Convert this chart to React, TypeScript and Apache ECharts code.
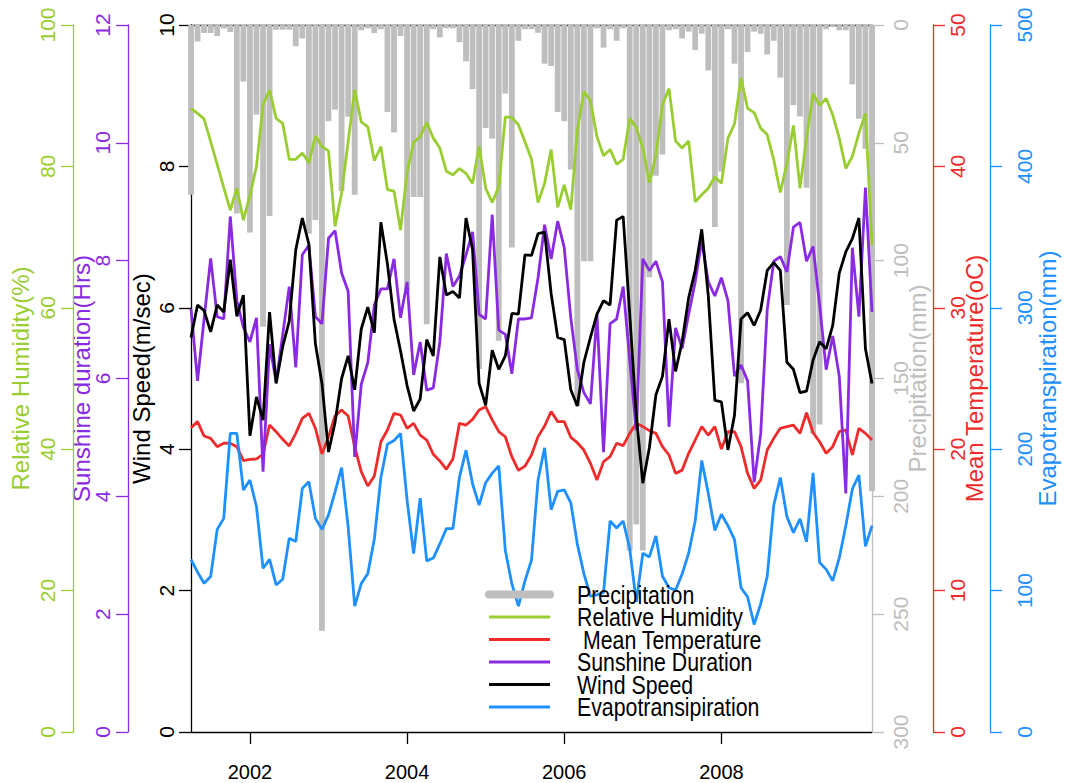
import React, { useEffect, useRef } from "react";
import * as echarts from "echarts";

// ---- Data (monthly, Apr 2001 - Dec 2009) ----
const START_YEAR = 2001;
const START_MONTH = 4;
const N_MONTHS = 105;
const months: string[] = [];
for (let k = 0; k < N_MONTHS; k++) {
  const m = START_MONTH - 1 + k;
  months.push(`${START_YEAR + Math.floor(m / 12)}-${String((m % 12) + 1).padStart(2, "0")}`);
}
const yearTickLabels = ["2002", "2004", "2006", "2008"];

const precipitation = [
  72, 7, 3.4, 3.4, 4.7, 1.5, 3, 80, 24, 88, 38, 128, 81, 2, 2, 2, 9, 5.7, 88.6, 82.7,
  257, 40.8, 35.9, 70.4, 38.9, 72, 2.2, 1.4, 3.4, 1.8, 36.9, 45.6, 4.7, 113, 73, 73, 127, 1.8, 5.3, 1.4,
  1.4, 7.3, 15.4, 27.2, 146, 43.7, 48.2, 134, 29.1, 94.4, 6.7, 1.8, 1.8, 3.3, 16.4, 17.4, 36.9, 40.8, 61.3, 161.7,
  100.3, 100.3, 1.4, 9.6, 1.8, 6.7, 1.4, 223, 212, 223, 107, 64, 55, 2.2, 1.8, 5.7, 2.8, 10.6, 3.7, 19.3,
  85.7, 62.2, 1.8, 16.4, 152, 11.5, 2.8, 3.7, 12.5, 6.7, 22.3, 118.8, 34, 38.8, 69.1, 173.4, 169.5, 1.8, 0.8, 2.2,
  2.2, 25.2, 39.8, 52.5, 197.8,
];
const relativeHumidity = [
  88.2, 87.5, 86.7, 83.5, 80.3, 77.0, 73.8, 76.9, 72.4, 75.9, 80.0, 88.7, 90.8, 86.8, 86.1, 81.0, 81.0, 81.9, 80.5, 84.3,
  82.8, 82.2, 71.5, 76.2, 83.5, 90.8, 86.3, 85.6, 80.8, 82.8, 76.7, 76.5, 71.0, 79.2, 83.4, 84.2, 86.2, 84.0, 82.6, 79.3,
  78.8, 79.7, 79.0, 77.6, 82.9, 76.9, 74.9, 77.1, 87.0, 86.9, 85.9, 83.5, 81.0, 74.9, 77.6, 82.4, 74.2, 77.4, 73.9, 85.1,
  90.6, 89.3, 84.2, 81.5, 82.4, 80.3, 81.0, 86.8, 85.5, 82.6, 77.7, 81.6, 88.7, 91.0, 83.6, 82.6, 83.6, 75.0, 76.0, 76.9,
  78.5, 77.6, 84.0, 86.0, 92.5, 88.2, 87.6, 85.4, 84.5, 80.9, 76.3, 80.4, 85.8, 76.9, 84.0, 90.3, 88.6, 89.6, 87.3, 84.0,
  79.7, 81.4, 84.7, 87.5, 68.9,
];
const meanTemperature = [
  21.52, 21.95, 20.93, 20.77, 20.18, 20.42, 20.42, 20.18, 19.19, 19.28, 19.31, 19.64, 21.71, 21.24, 20.7, 20.23, 21.12, 22.18, 22.54, 21.48,
  19.66, 20.88, 22.35, 22.77, 22.35, 20.18, 18.41, 17.4, 18.1, 20.53, 21.36, 22.54, 22.42, 21.48, 21.83, 21.0, 20.65, 19.64, 19.17, 18.58,
  19.31, 21.83, 21.71, 22.11, 22.77, 23.01, 22.07, 21.24, 20.88, 19.47, 18.5, 18.8, 19.59, 20.89, 21.64, 22.66, 21.95, 21.95, 20.84, 20.46,
  19.94, 19.0, 17.82, 19.12, 19.47, 20.42, 20.25, 21.12, 21.83, 21.6, 21.31, 21.12, 20.18, 19.59, 18.29, 18.52, 19.71, 20.65, 21.6, 21.0,
  21.6, 20.01, 21.24, 21.24, 20.18, 18.29, 17.23, 17.82, 19.94, 20.77, 21.48, 21.6, 21.71, 21.12, 22.58, 21.17, 20.53, 19.71, 20.18, 21.24,
  21.36, 19.59, 21.48, 21.12, 20.65,
];
const sunshineDuration = [
  7.18, 5.96, 7.01, 8.04, 7.05, 7.01, 8.75, 7.32, 6.87, 6.62, 7.03, 4.42, 6.58, 5.94, 6.74, 7.56, 6.19, 8.1, 8.26, 7.05,
  6.93, 8.38, 8.51, 7.79, 7.48, 4.67, 5.9, 6.27, 7.25, 7.52, 7.52, 8.03, 7.03, 7.64, 6.06, 6.62, 5.8, 5.84, 6.62, 8.12,
  7.56, 7.74, 8.1, 8.49, 7.09, 7.01, 8.78, 6.82, 6.75, 6.08, 7.01, 7.01, 7.03, 7.71, 8.61, 8.03, 8.67, 8.22, 7.03, 6.15,
  5.76, 5.57, 7.09, 4.75, 6.93, 7.01, 7.56, 6.31, 5.12, 8.03, 7.83, 7.99, 7.64, 5.18, 6.86, 6.51, 7.09, 7.64, 8.34, 7.64,
  7.4, 7.71, 7.32, 6.04, 6.23, 5.96, 4.24, 5.06, 7.17, 7.99, 8.07, 7.81, 8.57, 8.65, 7.99, 8.24, 7.25, 6.15, 6.72, 6.04,
  4.05, 8.22, 7.05, 9.24, 7.13,
];
const windSpeed = [
  5.58, 6.04, 5.96, 5.66, 6.04, 5.94, 6.68, 5.88, 6.18, 4.19, 4.74, 4.41, 5.94, 4.93, 5.45, 5.81, 6.82, 7.27, 6.9, 5.49,
  4.93, 3.96, 4.38, 5.0, 5.32, 4.84, 5.7, 6.01, 5.65, 7.21, 6.62, 5.84, 5.39, 4.9, 4.54, 4.71, 5.55, 5.32, 6.72, 6.18,
  6.23, 6.14, 7.27, 6.82, 4.93, 4.62, 5.4, 5.13, 5.32, 5.92, 5.91, 6.75, 6.74, 7.05, 7.07, 6.2, 5.58, 5.55, 4.84, 4.61,
  5.23, 5.58, 5.91, 6.1, 6.04, 7.24, 7.29, 5.91, 4.48, 3.52, 4.02, 4.77, 5.03, 5.84, 5.1, 5.52, 6.14, 6.53, 7.11, 6.17,
  4.69, 4.67, 3.99, 4.48, 5.84, 5.93, 5.75, 5.97, 6.53, 6.64, 6.53, 5.23, 5.13, 4.8, 4.82, 5.26, 5.52, 5.42, 5.75, 6.49,
  6.79, 6.98, 7.27, 5.42, 4.93,
];
const evapotranspiration = [
  122, 113, 105.2, 109.9, 143.3, 151.1, 211.2, 211.2, 171.1, 178.2, 159.3, 115.8, 122.1, 104.0, 108.0, 137.0, 134.7, 172.3, 177.0, 151.1,
  143.3, 153.5, 169.9, 186.9, 145, 89.0, 105, 112, 136.5, 180, 203.5, 206.2, 211.1, 164, 126.2, 165.4, 121, 123, 133, 143.8,
  143.8, 180.3, 199.3, 175.5, 160.5, 176.3, 183.1, 188.2, 128.4, 104.8, 89.0, 106.9, 121.5, 178.4, 201.0, 157.2, 170.2, 171.2, 162.1, 132.9,
  112, 96, 97, 98.7, 149.2, 144.3, 149.2, 129.6, 92, 126.4, 123.8, 138.7, 110.1, 102.0, 100.3, 111.7, 126.4, 149.2, 192, 168.6,
  142.6, 154.0, 145.9, 136.1, 102.0, 95.5, 76.0, 90.6, 110.1, 160.5, 180.0, 152.3, 141.0, 150.7, 134.5, 183.2, 119.9, 115.0, 106.9, 123.1,
  145.9, 171.9, 181.6, 131.3, 145.9,
];

const legendItems = [
  { name: "Precipitation", color: "#BEBEBE", width: 8 },
  { name: "Relative Humidity", color: "#9ACD32", width: 3 },
  { name: " Mean Temperature", color: "#EE2C2C", width: 3 },
  { name: "Sunshine Duration", color: "#8A2BE2", width: 3 },
  { name: "Wind Speed", color: "#000000", width: 3 },
  { name: "Evapotransipiration", color: "#1E90FF", width: 3 },
];

const C_RH = "#9ACD32";
const C_SUN = "#8A2BE2";
const C_WIND = "#000000";
const C_PREC = "#BEBEBE";
const C_TEMP = "#EE2C2C";
const C_EVAP = "#1E90FF";

const FONT = "'Liberation Sans', Arial, sans-serif";

function mkY(o: any) {
  return {
    type: "value",
    position: o.position,
    offset: o.offset,
    min: o.min,
    max: o.max,
    interval: o.interval,
    inverse: !!o.inverse,
    name: o.name,
    nameLocation: "middle",
    nameRotate: 90,
    nameGap: o.nameGap,
    nameMoveOverlap: false,
    nameTextStyle: { color: o.color, fontSize: 24, fontFamily: FONT },
    axisLine: { show: true, onZero: false, lineStyle: { color: o.color, width: 1.3 } },
    axisTick: { show: true, length: 12, lineStyle: { color: o.color, width: 1.3 } },
    axisLabel: { show: true, rotate: 90, color: o.color, fontSize: 21, fontFamily: FONT, margin: o.labelMargin },
    splitLine: { show: false },
  };
}

export default function App() {
  const ref = useRef<HTMLDivElement>(null);
  useEffect(() => {
    document.body.style.margin = "0";
    document.body.style.overflow = "hidden";
    if (!ref.current) return;
    const chart = echarts.init(ref.current, undefined, { renderer: "svg", width: 1065, height: 783 });
    const isYearTick = (_i: number, v: string) =>
      v.endsWith("-01") && yearTickLabels.includes(v.slice(0, 4));

    const rowY = (k: number) => 594.5 + 22.5 * k;
    const graphics: any[] = [];
    legendItems.forEach((it, k) => {
      graphics.push({
        type: "line",
        shape: { x1: 489, y1: rowY(k), x2: 550, y2: rowY(k) },
        style: { stroke: it.color, lineWidth: it.width, lineCap: k === 0 ? "round" : "butt" },
        z: 100,
      });
      graphics.push({
        type: "text",
        x: 577,
        y: rowY(k),
        scaleX: 0.82,
        style: {
          text: it.name,
          fill: "#000",
          fontSize: 26,
          fontFamily: FONT,
          align: "left",
          verticalAlign: "middle",
        },
        z: 100,
      });
    });

    const option: any = {
      animation: false,
      backgroundColor: "#ffffff",
      grid: { left: 191, right: 193, top: 25, bottom: 51, containLabel: false, outerBoundsMode: "none" },
      xAxis: [
        {
          type: "category",
          data: months,
          boundaryGap: false,
          position: "bottom",
          axisLine: { show: true, onZero: false, lineStyle: { color: "#000", width: 1.3 } },
          axisTick: { show: true, length: 12, interval: isYearTick, lineStyle: { color: "#000", width: 1.3 } },
          axisLabel: {
            show: true,
            interval: isYearTick,
            formatter: (v: string) => v.slice(0, 4),
            color: "#000",
            fontSize: 20,
            fontFamily: FONT,
            margin: 30,
          },
          splitLine: { show: false },
        },
        {
          type: "category",
          data: months,
          boundaryGap: false,
          position: "top",
          axisLine: { show: true, onZero: false, lineStyle: { color: "#000", width: 1.3 } },
          axisTick: { show: false },
          axisLabel: { show: false },
          splitLine: { show: false },
        },
      ],
      yAxis: [
        mkY({ position: "left", offset: 0, min: 0, max: 10, interval: 2, name: "Wind Speed(m/sec)", color: C_WIND, nameGap: 38, labelMargin: 14 }),
        mkY({ position: "left", offset: 63, min: 0, max: 12, interval: 2, name: "Sunshine duration(Hrs)", color: C_SUN, nameGap: 35, labelMargin: 15 }),
        mkY({ position: "left", offset: 118, min: 0, max: 100, interval: 20, name: "Relative Humidity(%)", color: C_RH, nameGap: 41, labelMargin: 15 }),
        mkY({ position: "right", offset: 0, min: 0, max: 300, interval: 50, inverse: true, name: "Precipitation(mm)", color: C_PREC, nameGap: 33, labelMargin: 18 }),
        mkY({ position: "right", offset: 61, min: 0, max: 50, interval: 10, name: "Mean Temperature(oC)", color: C_TEMP, nameGap: 29, labelMargin: 14 }),
        mkY({ position: "right", offset: 118, min: 0, max: 500, interval: 100, name: "Evapotranspiration(mm)", color: C_EVAP, nameGap: 45, labelMargin: 24 }),
      ],
      series: [
        {
          name: "Precipitation",
          type: "bar",
          yAxisIndex: 3,
          data: precipitation,
          barWidth: 5.8,
          itemStyle: { color: C_PREC },
          clip: true,
          z: 1,
        },
        { name: "Relative Humidity", type: "line", yAxisIndex: 2, data: relativeHumidity, symbol: "none", lineStyle: { color: C_RH, width: 2.8 }, z: 3 },
        { name: "Mean Temperature", type: "line", yAxisIndex: 4, data: meanTemperature, symbol: "none", lineStyle: { color: C_TEMP, width: 2.8 }, z: 3 },
        { name: "Sunshine Duration", type: "line", yAxisIndex: 1, data: sunshineDuration, symbol: "none", lineStyle: { color: C_SUN, width: 2.8 }, z: 3 },
        { name: "Wind Speed", type: "line", yAxisIndex: 0, data: windSpeed, symbol: "none", lineStyle: { color: C_WIND, width: 2.8 }, z: 3 },
        { name: "Evapotranspiration", type: "line", yAxisIndex: 5, data: evapotranspiration, symbol: "none", lineStyle: { color: C_EVAP, width: 2.8 }, z: 3 },
      ],
      graphic: graphics,
    };
    chart.setOption(option);
    return () => chart.dispose();
  }, []);
  return <div ref={ref} style={{ width: 1065, height: 783 }} />;
}
